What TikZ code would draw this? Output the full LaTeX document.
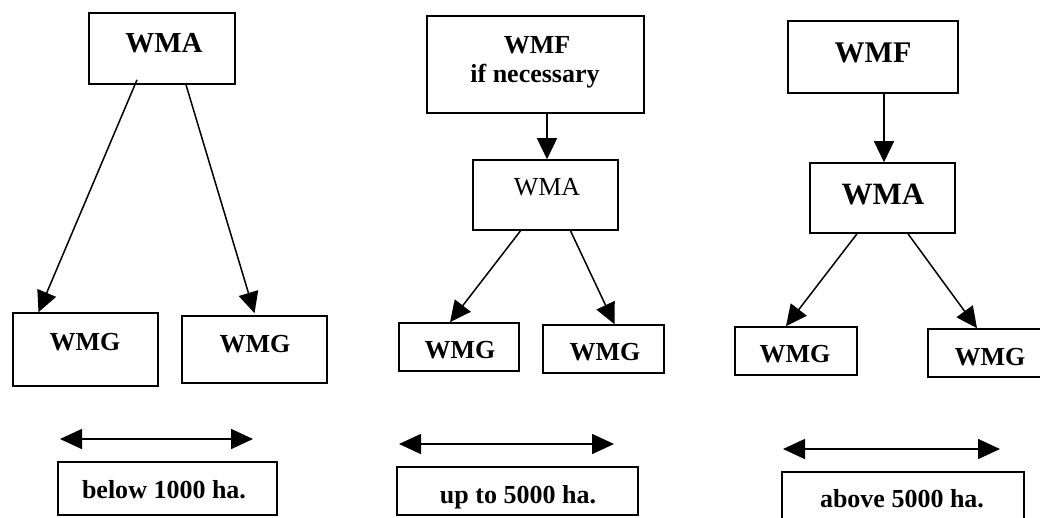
\documentclass[tikz,border=0pt]{standalone}
\usepackage{fontspec}
\setmainfont{Liberation Serif}
\usetikzlibrary{arrows.meta}
\begin{document}
\begin{tikzpicture}[x=1pt,y=-1pt,
  box/.style={draw=black,line width=1.6pt,inner sep=0pt},
  txt/.style={inner sep=0pt,anchor=base,font=\bfseries\fontsize{26}{30}\selectfont},
  arr/.style={draw=black,line width=1.5pt,-{Triangle[length=21pt,width=20pt]}},
  dbl/.style={draw=black,line width=1.6pt,{Triangle[length=22pt,width=20pt]}-{Triangle[length=22pt,width=20pt]}}]
\clip (0,0) rectangle (1040,517);
\fill[white] (0,0) rectangle (1040,517);
% Panel 1
\node[box,minimum width=146pt,minimum height=71pt] (wma1) at (162,48.5) {};
\node[txt,font=\bfseries\fontsize{29}{32}\selectfont] (t_wma1) at (164,52) {WMA};
\node[box,minimum width=145pt,minimum height=73pt] (wmg1a) at (85.5,349.5) {};
\node[txt] (t_wmg1a) at (85,350) {WMG};
\node[box,minimum width=145pt,minimum height=67pt] (wmg1b) at (254.5,349.5) {};
\node[txt] (t_wmg1b) at (255,352) {WMG};
\draw[arr] ([xshift=-25pt,yshift=5pt]wma1.south) -- ([xshift=-47pt]wmg1a.north);
\draw[arr] ([xshift=24pt]wma1.south) -- ([xshift=0pt,yshift=2pt]wmg1b.north);
\coordinate (d1l) at (60,439);
\coordinate (d1r) at (253,439);
\draw[dbl] (d1l) -- (d1r);
\node[box,minimum width=219pt,minimum height=53pt] (l1) at (167.5,488.5) {};
\node[txt] (t_l1) at (164,498) {below 1000 ha.};
% Panel 2
\node[box,minimum width=217pt,minimum height=97pt] (wmf2) at (535.5,64.5) {};
\node[txt] (t_wmf2) at (537,53) {WMF};
\node[txt] (t_nec2) at (535,82) {if necessary};
\node[box,minimum width=145pt,minimum height=70pt] (wma2) at (545.5,195) {};
\node[txt,font=\fontsize{26}{30}\selectfont] (t_wma2) at (547,195) {WMA};
\node[box,minimum width=120pt,minimum height=48pt] (wmg2a) at (459,347) {};
\node[txt] (t_wmg2a) at (460,358) {WMG};
\node[box,minimum width=121pt,minimum height=48pt] (wmg2b) at (603.5,349) {};
\node[txt] (t_wmg2b) at (605,360) {WMG};
\draw[arr] ([xshift=11.5pt]wmf2.south) -- ([xshift=1.5pt]wma2.north);
\draw[arr] ([xshift=-25pt]wma2.south) -- ([xshift=-9pt]wmg2a.north);
\draw[arr] ([xshift=25pt]wma2.south) -- ([xshift=11pt]wmg2b.north);
\coordinate (d2l) at (399,444);
\coordinate (d2r) at (614,444);
\draw[dbl] (d2l) -- (d2r);
\node[box,minimum width=241pt,minimum height=48pt] (l2) at (517.5,491) {};
\node[txt] (t_l2) at (518,503) {up to 5000 ha.};
% Panel 3
\node[box,minimum width=170pt,minimum height=72pt] (wmf3) at (873,57) {};
\node[txt,font=\bfseries\fontsize{30}{34}\selectfont] (t_wmf3) at (873,62) {WMF};
\node[box,minimum width=145pt,minimum height=70pt] (wma3) at (882.5,198) {};
\node[txt,font=\bfseries\fontsize{31}{34}\selectfont] (t_wma3) at (883,204) {WMA};
\node[box,minimum width=122pt,minimum height=48pt] (wmg3a) at (796,351) {};
\node[txt] (t_wmg3a) at (795,362) {WMG};
\node[box,minimum width=124pt,minimum height=48pt] (wmg3b) at (990,353) {};
\node[txt] (t_wmg3b) at (990,365) {WMG};
\draw[arr] ([xshift=11pt]wmf3.south) -- ([xshift=1.5pt]wma3.north);
\draw[arr] ([xshift=-25.5pt]wma3.south) -- ([xshift=-10pt]wmg3a.north);
\draw[arr] ([xshift=25.5pt]wma3.south) -- ([xshift=-13pt]wmg3b.north);
\coordinate (d3l) at (783,449);
\coordinate (d3r) at (1000,449);
\draw[dbl] (d3l) -- (d3r);
\node[box,minimum width=242pt,minimum height=50pt] (l3) at (903,497) {};
\node[txt] (t_l3) at (902,507) {above 5000 ha.};
\end{tikzpicture}
\end{document}
